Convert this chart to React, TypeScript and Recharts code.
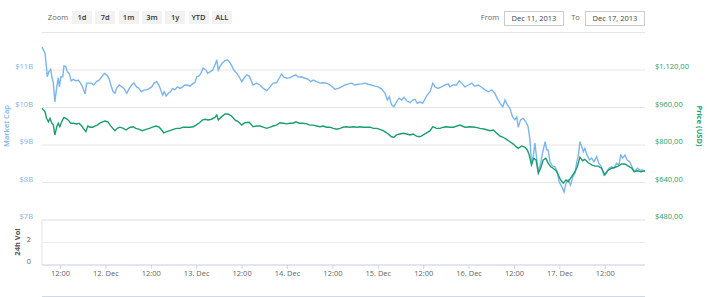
import React from 'react';
import { LineChart, Line, XAxis, YAxis, CartesianGrid } from 'recharts';

// [hours since Dec 11 00:00, market cap in $B]
const marketCap: [number, number][] = [
  [7.1, 11.61], [7.9, 11.45], [8.3, 11.05], [8.5, 10.82], [8.9, 10.95], [9.4, 11.02], [9.7, 10.82], [10.1, 10.65],
  [10.5, 10.15], [11.0, 10.55], [11.4, 10.79], [11.7, 10.55], [12.1, 10.82], [12.6, 10.82], [12.9, 11.11], [13.4, 11.09],
  [13.8, 10.95], [14.3, 10.91], [14.8, 10.71], [15.4, 10.75], [16.1, 10.71], [16.7, 10.73], [17.3, 10.65], [17.8, 10.55],
  [18.5, 10.36], [18.9, 10.65], [19.6, 10.65], [20.2, 10.65], [20.8, 10.6], [21.5, 10.69], [22.2, 10.73], [22.9, 10.82],
  [23.6, 10.91], [24.2, 10.87], [24.8, 10.78], [25.3, 10.6], [25.9, 10.42], [26.4, 10.38], [26.8, 10.51], [27.5, 10.6],
  [28.2, 10.55], [28.8, 10.51], [29.5, 10.38], [30.2, 10.51], [30.8, 10.6], [31.4, 10.65], [32.1, 10.55], [32.7, 10.51],
  [33.4, 10.42], [34.1, 10.47], [34.8, 10.47], [35.5, 10.51], [36.1, 10.55], [36.8, 10.66], [37.4, 10.69], [38.0, 10.6],
  [38.5, 10.47], [39.0, 10.33], [39.4, 10.42], [39.9, 10.31], [40.5, 10.38], [41.1, 10.42], [41.6, 10.51], [42.2, 10.47],
  [42.9, 10.55], [43.6, 10.51], [44.3, 10.55], [44.9, 10.6], [45.5, 10.6], [46.2, 10.57], [46.9, 10.63], [47.5, 10.66],
  [48.0, 10.82], [48.6, 10.84], [49.1, 10.91], [49.7, 11.05], [50.4, 11.0], [50.9, 10.91], [51.5, 10.95], [52.2, 11.0],
  [52.8, 11.13], [53.3, 11.27], [53.7, 11.0], [54.1, 11.09], [54.7, 11.18], [55.5, 11.25], [56.1, 11.27], [56.6, 11.22],
  [57.2, 11.13], [57.8, 11.0], [58.6, 10.91], [59.2, 10.82], [59.9, 10.69], [60.5, 10.78], [61.2, 10.87], [61.9, 10.84],
  [62.9, 10.6], [63.8, 10.65], [64.7, 10.6], [65.6, 10.51], [66.5, 10.45], [67.4, 10.55], [68.2, 10.65], [69.1, 10.66],
  [69.8, 10.78], [70.4, 10.89], [71.1, 10.81], [71.8, 10.78], [72.6, 10.79], [73.5, 10.84], [74.2, 10.87], [74.8, 10.81],
  [75.7, 10.82], [76.6, 10.78], [77.5, 10.75], [78.1, 10.69], [78.8, 10.73], [79.7, 10.69], [80.6, 10.65], [81.4, 10.66],
  [82.3, 10.65], [83.2, 10.6], [83.9, 10.55], [84.5, 10.49], [85.4, 10.51], [86.3, 10.55], [87.2, 10.6], [88.1, 10.63],
  [89.0, 10.65], [89.8, 10.6], [90.7, 10.62], [91.6, 10.63], [92.5, 10.65], [93.3, 10.62], [94.2, 10.6], [95.1, 10.57],
  [96.0, 10.55], [96.9, 10.49], [97.8, 10.38], [98.4, 10.2], [98.9, 10.29], [99.5, 10.07], [100.1, 10.02], [100.8, 10.15],
  [101.5, 10.25], [102.2, 10.2], [102.8, 10.27], [103.5, 10.18], [104.4, 10.13], [105.1, 10.2], [105.7, 10.22], [106.3, 10.11],
  [107.0, 10.15], [107.7, 10.11], [108.3, 10.22], [108.9, 10.33], [109.7, 10.42], [110.4, 10.65], [111.0, 10.55], [111.8, 10.51],
  [112.7, 10.55], [113.6, 10.6], [114.5, 10.63], [114.9, 10.55], [115.8, 10.6], [116.7, 10.6], [117.4, 10.71], [118.0, 10.65],
  [118.9, 10.55], [119.8, 10.6], [120.7, 10.65], [121.5, 10.57], [122.4, 10.6], [123.3, 10.54], [124.2, 10.47], [125.1, 10.42],
  [126.0, 10.47], [126.8, 10.38], [127.4, 10.25], [128.2, 10.11], [128.9, 10.02], [129.5, 10.2], [130.1, 10.07], [130.8, 9.98],
  [131.5, 9.75], [132.1, 9.67], [132.6, 9.75], [133.0, 9.47], [133.6, 9.67], [134.3, 9.71], [135.0, 9.62], [135.6, 9.49],
  [136.1, 9.13], [136.5, 8.51], [137.0, 8.73], [137.4, 9.05], [137.9, 8.6], [138.3, 8.29], [138.9, 8.51], [139.4, 8.78],
  [140.1, 9.09], [140.5, 8.87], [140.9, 8.87], [141.4, 8.55], [142.0, 8.44], [142.7, 8.42], [143.3, 8.29], [143.8, 8.02],
  [144.5, 7.89], [145.1, 7.75], [145.6, 7.98], [146.2, 8.07], [146.8, 7.93], [147.4, 8.15], [148.0, 8.25], [148.4, 8.51],
  [148.9, 8.73], [149.3, 9.09], [149.8, 8.95], [150.2, 8.82], [150.6, 8.91], [151.2, 8.73], [151.8, 8.6], [152.4, 8.65],
  [153.0, 8.55], [153.7, 8.69], [154.3, 8.51], [155.0, 8.42], [155.6, 8.2], [156.4, 8.29], [157.0, 8.38], [157.7, 8.42],
  [158.3, 8.38], [159.0, 8.51], [159.6, 8.47], [160.1, 8.73], [160.6, 8.65], [161.2, 8.73], [161.8, 8.6], [162.5, 8.55],
  [163.2, 8.38], [163.8, 8.29], [164.5, 8.38], [165.2, 8.33], [166.0, 8.33], [166.5, 8.31],
];

// [hours since Dec 11 00:00, price in USD]
const price: [number, number][] = [
  [7.1, 957], [7.9, 942], [8.3, 914], [8.8, 899], [9.2, 914], [9.7, 893], [10.1, 885], [10.5, 843], [11.0, 878],
  [11.4, 893], [11.8, 878], [12.3, 899], [12.9, 918], [13.4, 914], [14.0, 907], [14.7, 893], [15.4, 893], [16.3, 890],
  [16.9, 893], [17.6, 881], [18.2, 867], [18.7, 857], [19.2, 881], [19.8, 876], [20.5, 876], [21.1, 881], [21.7, 885],
  [22.4, 893], [23.1, 899], [23.7, 902], [24.5, 899], [25.1, 885], [25.8, 871], [26.4, 861], [27.0, 871], [27.7, 876],
  [28.6, 871], [29.3, 864], [29.9, 871], [30.5, 876], [31.2, 878], [31.9, 871], [32.8, 867], [33.7, 861], [34.6, 867],
  [35.5, 871], [36.3, 876], [37.2, 881], [38.1, 876], [38.7, 864], [39.3, 852], [40.1, 857], [40.9, 861], [41.8, 867],
  [42.7, 871], [43.6, 871], [44.4, 876], [45.3, 876], [46.2, 876], [47.1, 878], [47.8, 885], [48.7, 895], [49.6, 907],
  [50.2, 910], [51.0, 907], [51.9, 910], [52.8, 918], [53.3, 928], [53.7, 907], [54.6, 921], [55.5, 932], [56.3, 932],
  [57.2, 924], [58.1, 907], [59.0, 899], [59.9, 885], [60.7, 895], [61.9, 897], [62.9, 878], [63.8, 881], [64.7, 881],
  [65.6, 876], [66.5, 871], [67.4, 876], [68.2, 881], [69.1, 885], [70.0, 895], [70.9, 893], [71.8, 890], [72.6, 893],
  [73.5, 893], [74.2, 899], [75.1, 893], [76.0, 893], [77.1, 890], [77.9, 885], [78.8, 885], [79.7, 881], [80.6, 878],
  [81.4, 881], [82.3, 876], [83.2, 876], [84.1, 871], [85.0, 867], [85.9, 871], [86.7, 876], [87.6, 878], [88.5, 876],
  [89.4, 878], [90.3, 876], [91.1, 878], [92.0, 876], [92.9, 876], [93.8, 876], [94.7, 871], [95.6, 871], [96.4, 867],
  [97.3, 861], [98.2, 852], [98.9, 843], [99.5, 835], [100.1, 833], [100.8, 843], [101.7, 847], [102.6, 850], [103.5, 847],
  [104.4, 843], [105.2, 847], [106.1, 838], [107.0, 835], [107.9, 843], [108.8, 852], [109.7, 861], [110.4, 878], [111.4, 871],
  [112.3, 871], [113.2, 876], [114.1, 878], [114.9, 876], [115.8, 876], [117.6, 885], [118.9, 876], [120.2, 878], [121.5, 876],
  [122.9, 871], [124.2, 867], [125.5, 861], [126.4, 864], [127.3, 850], [128.2, 838], [129.0, 833], [129.9, 824], [130.8, 814],
  [131.7, 804], [132.4, 793], [133.0, 786], [133.9, 796], [134.8, 790], [135.4, 779], [135.9, 757], [136.5, 715], [137.1, 743],
  [137.7, 736], [138.3, 679], [138.9, 701], [139.6, 736], [140.3, 743], [140.9, 722], [141.6, 707], [142.2, 701], [143.0, 690],
  [143.6, 672], [144.2, 651], [144.9, 637], [145.6, 651], [146.2, 643], [147.1, 665], [148.0, 686], [148.6, 707], [149.3, 748],
  [150.0, 733], [150.6, 739], [151.5, 724], [152.4, 715], [153.3, 710], [154.1, 710], [155.0, 701], [155.9, 672], [156.8, 693],
  [157.7, 701], [158.6, 705], [159.4, 710], [160.3, 719], [161.2, 719], [162.1, 710], [163.0, 701], [163.6, 686], [164.5, 690],
  [165.4, 686], [166.2, 689], [166.5, 689],
];

// 24h volume pane: no volume is drawn in the picture, only its empty axis
const volume: [number, number | null][] = [[7.1, null], [166.5, null]];

const capTicks = [7, 8, 9, 10, 11, 12];
const priceTicks = [480, 640, 800, 960, 1120, 1280];
const volTicks = [0, 2, 4];
const timeTicks = [12, 24, 36, 48, 60, 72, 84, 96, 108, 120, 132, 144, 156];
const zoomButtons = ['1d', '7d', '1m', '3m', '1y', 'YTD', 'ALL'];
const fromDate = 'Dec 11, 2013';
const toDate = 'Dec 17, 2013';

const capData = marketCap.map(([t, v]) => ({ t, cap: v }));
const priceData = price.map(([t, v]) => ({ t, price: v }));
const volData = volume.map(([t, v]) => ({ t, vol: v }));

const FONT = '"Open Sans", Arial, sans-serif';
const BLUE = '#7cb5ec';
const GREEN = '#1a9e6c';
const X_DOMAIN: [number, number] = [7.1, 166.5];

const fmtCap = (v: number) => `$${v}B`;
const fmtPrice = (v: number) => {
  const th = Math.floor(v / 1000);
  const rest = v % 1000;
  return '$' + (th ? `${th}.${String(rest).padStart(3, '0')}` : String(rest)) + ',00';
};
const fmtTime = (h: number) => (h % 24 === 0 ? `${11 + h / 24}. Dec` : '12:00');

function AxisTick(props: any) {
  const { x, y, payload, anchor, color, format, hideValue, shift } = props;
  if (payload.value === hideValue) return <g />;
  return (
    <text x={x} y={y + shift} dy="0.35em" textAnchor={anchor} fill={color} fontSize={7.5} fontFamily={FONT}>
      {format(payload.value)}
    </text>
  );
}

const boxStyle: React.CSSProperties = {
  position: 'absolute', top: 11, height: 13, lineHeight: '13px', fontSize: 7.5, fontFamily: FONT, textAlign: 'center',
};

export default function App() {
  return (
    <div style={{ position: 'absolute', left: 0, top: 0, width: 710, height: 297, background: '#fff', overflow: 'hidden' }}>
      <span style={{ ...boxStyle, left: 46, width: 24, color: '#666' }}>Zoom</span>
      {zoomButtons.map((b, i) => (
        <span key={b} style={{ ...boxStyle, left: 72 + i * 23.3, width: 20, background: '#f2f2f2', color: '#333', fontWeight: 600 }}>{b}</span>
      ))}
      <span style={{ ...boxStyle, left: 479, width: 22, color: '#666' }}>From</span>
      <span style={{ ...boxStyle, left: 504, width: 58, border: '1px solid #ccc', color: '#444' }}>{fromDate}</span>
      <span style={{ ...boxStyle, left: 569, width: 13, color: '#666' }}>To</span>
      <span style={{ ...boxStyle, left: 585, width: 58, border: '1px solid #ccc', color: '#444' }}>{toDate}</span>

      <div style={{ position: 'absolute', left: 0, top: 0 }}>
        <LineChart width={710} height={230} margin={{ top: 32.5, right: 0, bottom: 10, left: 0 }}>
          <CartesianGrid yAxisId="cap" vertical={false} stroke="#e6e6e6" />
          <XAxis dataKey="t" type="number" domain={X_DOMAIN} hide />
          <YAxis
            yAxisId="cap" orientation="left" width={42} domain={[7, 12]} ticks={capTicks}
            axisLine={false} tickLine={false} tickMargin={3}
            tick={(p: any) => <AxisTick {...p} anchor="end" color={BLUE} format={fmtCap} hideValue={12} shift={-3.3} />}
          />
          <YAxis
            yAxisId="price" orientation="right" width={65} domain={[480, 1280]} ticks={priceTicks}
            axisLine={false} tickLine={false} tickMargin={4}
            tick={(p: any) => <AxisTick {...p} anchor="start" color={GREEN} format={fmtPrice} hideValue={1280} shift={-3.3} />}
          />
          <Line data={capData} dataKey="cap" yAxisId="cap" type="linear" stroke={BLUE} strokeWidth={1.4} dot={false} isAnimationActive={false} />
          <Line data={priceData} dataKey="price" yAxisId="price" type="linear" stroke={GREEN} strokeWidth={1.4} dot={false} isAnimationActive={false} />
        </LineChart>
      </div>

      <div style={{ position: 'absolute', left: 0, top: 210 }}>
        <LineChart data={volData} width={710} height={87} margin={{ top: 10, right: 65, bottom: 7, left: 0 }}>
          <CartesianGrid vertical={false} stroke="#ececec" />
          <XAxis
            dataKey="t" type="number" domain={X_DOMAIN} ticks={timeTicks} tickFormatter={fmtTime} interval={0}
            height={25} tickSize={4} tickMargin={2} stroke="#ccd6eb"
            tick={{ fill: '#666', fontSize: 7.5, fontFamily: FONT }}
          />
          <YAxis
            type="number" width={42} domain={[0, 4]} allowDataOverflow ticks={volTicks} interval={0}
            axisLine={{ stroke: '#dfe3ea' }} tickLine={false} tickMargin={5}
            tick={(p: any) => <AxisTick {...p} anchor="end" color="#666" format={(v: number) => String(v)} hideValue={4} shift={-3.5} />}
          />
          <Line dataKey="vol" type="linear" stroke="#434348" dot={false} isAnimationActive={false} />
        </LineChart>
      </div>

      <div style={{ position: 'absolute', left: 42, top: 295.5, width: 603, height: 1, background: '#d3d9e3' }} />

      <svg width={710} height={297} style={{ position: 'absolute', left: 0, top: 0, pointerEvents: 'none' }}>
        <text transform="translate(6,126) rotate(-90)" textAnchor="middle" dy="0.35em" fill={BLUE} fontSize={7.5} fontWeight={600} fontFamily={FONT}>Market Cap</text>
        <text transform="translate(700,126) rotate(90)" textAnchor="middle" dy="0.35em" fill={GREEN} fontSize={7.5} fontWeight={700} fontFamily={FONT}>Price (USD)</text>
        <text transform="translate(17,242) rotate(-90)" textAnchor="middle" dy="0.35em" fill="#555" fontSize={7.5} fontWeight={700} fontFamily={FONT}>24h Vol</text>
      </svg>
    </div>
  );
}
